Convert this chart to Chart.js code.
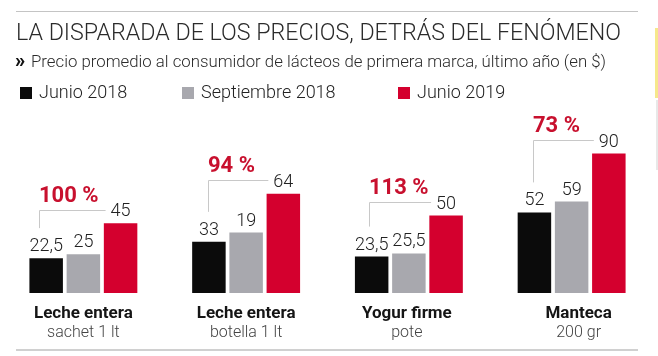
<!DOCTYPE html>
<html><head><meta charset="utf-8">
<script src="https://cdn.jsdelivr.net/npm/chart.js@4"></script>
<style>html,body{margin:0;padding:0;background:#fff}#wrap{width:658px;height:356px;position:relative}</style>
</head><body><div id="wrap"><canvas id="c" width="658" height="356"></canvas></div>
<script>
// ---- data ----
const categories = ["Leche entera", "Leche entera", "Yogur firme", "Manteca"];
const subCategories = ["sachet 1 lt", "botella 1 lt", "pote", "200 gr"];
const seriesNames = ["Junio 2018", "Septiembre 2018", "Junio 2019"];
const junio2018 = [22.5, 33, 23.5, 52];
const septiembre2018 = [25, 39, 25.5, 59];   // bar heights as drawn
const junio2019 = [45, 64, 50, 90];
const junio2018Labels = ["22,5", "33", "23,5", "52"];
const septiembre2018Labels = ["25", "19", "25,5", "59"]; // as printed
const junio2019Labels = ["45", "64", "50", "90"];
const increaseLabels = ["100 %", "94 %", "113 %", "73 %"];

// ---- styles ----
const COLORS = ["#0b0b0b", "#a8a8ae", "#d4002e"];
const PCT_COLOR = "#c8102e";
const LABEL_SHIFT = [0, 0, -2, 7];
const BRACKET_SHIFT = [-6, 0, -2, 0];
const valueLabels = [junio2018Labels, septiembre2018Labels, junio2019Labels];

const deco = {
  id: 'deco',
  beforeDraw(chart) {
    const ctx = chart.ctx;
    ctx.save();
    ctx.fillStyle = '#fff';
    ctx.fillRect(0, 0, chart.width, chart.height);
    ctx.restore();
  },
  afterDatasetsDraw(chart) {
    const ctx = chart.ctx;
    ctx.save();
    // top & bottom rules
    ctx.fillStyle = '#c4c4c4';
    ctx.fillRect(16, 11, 622, 1);
    ctx.fillStyle = '#d0d0d0';
    ctx.fillRect(16, 349, 622, 2);
    // right edge fragment
    ctx.fillStyle = '#f6e88c';
    ctx.fillRect(655, 28, 3, 70);
    ctx.fillStyle = '#e8e8e8';
    ctx.fillRect(656, 100, 2, 70);

    // title
    ctx.fillStyle = '#2b2b2b';
    ctx.textBaseline = 'alphabetic';
    ctx.textAlign = 'left';
    ctx.font = '300 23.5px Roboto';
    ctx.fillText('LA DISPARADA DE LOS PRECIOS, DETRÁS DEL FENÓMENO', 16, 40, 605);
    // subtitle
    ctx.font = '900 20px Roboto';
    ctx.fillStyle = '#111';
    ctx.fillText('»', 15, 67);
    ctx.font = '300 17px Roboto';
    ctx.fillStyle = '#2b2b2b';
    ctx.fillText('Precio promedio al consumidor de lácteos de primera marca, último año (en $)', 31, 67, 575);

    // legend
    const legX = [20, 182, 398];
    ctx.font = '300 18px Roboto';
    seriesNames.forEach((n, i) => {
      ctx.fillStyle = COLORS[i];
      ctx.fillRect(legX[i], 87, 12, 12);
      ctx.fillStyle = '#222';
      ctx.fillText(n, legX[i] + 19, 98);
    });

    const metas = [0, 1, 2].map(i => chart.getDatasetMeta(i));
    const xs = chart.scales.x;
    categories.forEach((cat, j) => {
      // value labels
      ctx.textAlign = 'center';
      ctx.font = '300 18px Roboto';
      ctx.fillStyle = '#222';
      metas.forEach((m, i) => {
        const b = m.data[j];
        ctx.fillText(valueLabels[i][j], b.x, b.y - 7);
      });
      // bracket
      const black = metas[0].data[j], red = metas[2].data[j];
      const vx = Math.round(black.x - 1 + BRACKET_SHIFT[j]) + 0.5;
      const ly = Math.round(red.y - 13.5) + 0.5;
      const hx2 = red.x - 15;
      const vy2 = black.y - 30;
      ctx.strokeStyle = '#c8c8c8';
      ctx.lineWidth = 1;
      ctx.beginPath();
      ctx.moveTo(hx2, ly);
      ctx.lineTo(vx, ly);
      ctx.lineTo(vx, vy2);
      ctx.stroke();
      // percent
      ctx.textAlign = 'left';
      ctx.font = 'bold 22px Roboto';
      ctx.fillStyle = PCT_COLOR;
      ctx.fillText(increaseLabels[j], vx - 0.5, ly - 9);
      // category labels
      const cx = xs.getPixelForValue(j) + LABEL_SHIFT[j];
      ctx.textAlign = 'center';
      ctx.font = 'bold 17px Roboto';
      ctx.fillStyle = '#151515';
      ctx.fillText(cat, cx, 318, 104);
      ctx.font = '300 16px Roboto';
      ctx.fillStyle = '#444';
      ctx.fillText(subCategories[j], cx, 337);
    });
    ctx.restore();
  }
};

new Chart(document.getElementById('c'), {
  type: 'bar',
  data: {
    labels: categories,
    datasets: [
      { label: seriesNames[0], data: junio2018, backgroundColor: COLORS[0] },
      { label: seriesNames[1], data: septiembre2018, backgroundColor: COLORS[1] },
      { label: seriesNames[2], data: junio2019, backgroundColor: COLORS[2] }
    ]
  },
  options: {
    responsive: false,
    animation: false,
    devicePixelRatio: 1,
    categoryPercentage: 0.686,
    barPercentage: 0.9,
    layout: { padding: { left: 2, right: 5, top: 107, bottom: 63 } },
    plugins: { legend: { display: false }, tooltip: { enabled: false }, title: { display: false } },
    scales: {
      x: { display: false },
      y: { display: false, min: 0, max: 120 }
    }
  },
  plugins: [deco]
});
</script>
</body></html>
